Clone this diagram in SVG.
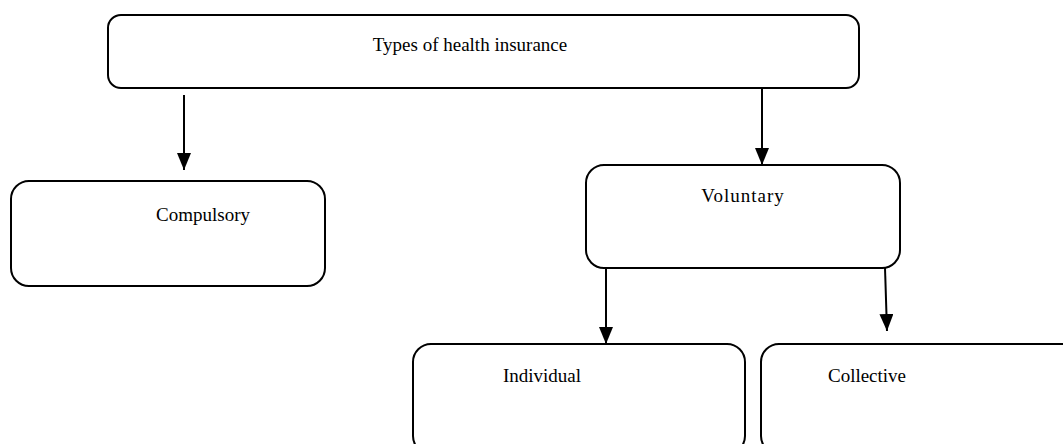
<svg xmlns="http://www.w3.org/2000/svg" width="1063" height="444" viewBox="0 0 1063 444">
<defs>
<style>
.box{fill:#fff;stroke:#000;stroke-width:2}
.lbl{font-family:"Liberation Serif","Times New Roman",serif;font-size:19px;fill:#000;text-anchor:middle}
.con{stroke:#000;stroke-width:2;fill:none;marker-end:url(#arr)}
</style>
<marker id="arr" viewBox="0 0 10 10" refX="10" refY="5" markerWidth="8.5" markerHeight="7" preserveAspectRatio="none" markerUnits="strokeWidth" orient="auto">
<path d="M0,0 L10,5 L0,10 z" fill="#000"/>
</marker>
</defs>
<rect width="1063" height="444" fill="#fff"/>
<g id="n-types">
<rect class="box" x="108" y="15" width="751" height="73" rx="13"/>
<text class="lbl" x="470" y="51">Types of health insurance</text>
</g>
<g id="n-compulsory">
<rect class="box" x="11" y="181" width="314" height="105" rx="18"/>
<text class="lbl" x="203" y="221">Compulsory</text>
</g>
<g id="n-voluntary">
<rect class="box" x="586" y="165" width="314" height="103" rx="18"/>
<text class="lbl" x="743" y="202" letter-spacing="1">Voluntary</text>
</g>
<g id="n-individual">
<rect class="box" x="413" y="344" width="332" height="110" rx="18"/>
<text class="lbl" x="542" y="382">Individual</text>
</g>
<g id="n-collective">
<rect class="box" x="761" y="344" width="320" height="110" rx="18"/>
<text class="lbl" x="867" y="382">Collective</text>
</g>
<g id="connectors">
<line class="con" x1="184" y1="95" x2="184" y2="170"/>
<line class="con" x1="762" y1="88" x2="762" y2="165"/>
<line class="con" x1="606" y1="268" x2="606" y2="344"/>
<line class="con" x1="885" y1="268" x2="887" y2="331"/>
</g>
</svg>
